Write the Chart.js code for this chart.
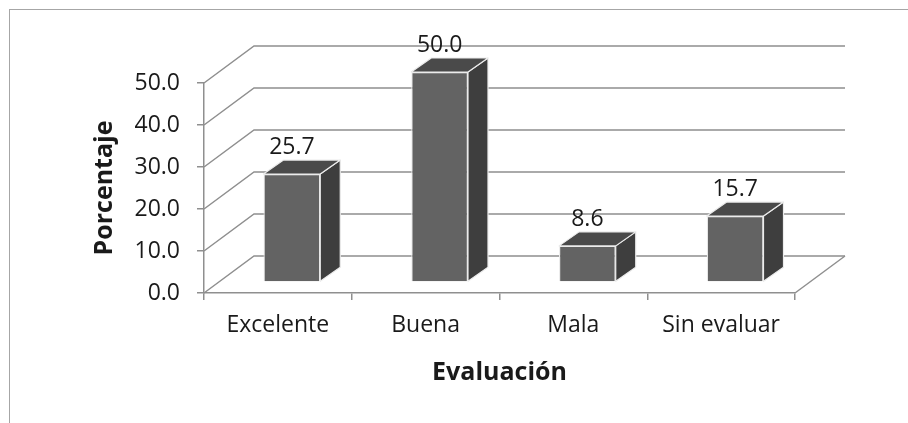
<!DOCTYPE html>
<html lang="es">
<head>
<meta charset="utf-8">
<title>Evaluación</title>
<script src="https://cdn.jsdelivr.net/npm/chart.js@4.4.1/dist/chart.umd.min.js"></script>
<style>
  html, body { margin: 0; padding: 0; background: #fff; overflow: hidden; }
  .marco { position: absolute; left: 9px; top: 9px; width: 1000px; height: 1000px; border: 1px solid #a6a6a6; }
  .lienzo { position: absolute; left: 0; top: 0; width: 908px; height: 423px; }
</style>
</head>
<body>
<div class="marco"></div>
<div class="lienzo"><canvas id="graficoEvaluacion"></canvas></div>
<script>
const categorias = ["Excelente", "Buena", "Mala", "Sin evaluar"];
const porcentajes = [25.7, 50.0, 8.6, 15.7];
const marcasY = [0, 10, 20, 30, 40, 50];

// proyeccion oblicua: pared del fondo, posicion y grosor de las barras
const FONDO = { dx: 50, dy: -37 };
const DESPLAZA_BARRA = { dx: 14, dy: -11 };
const PROF_BARRA = { dx: 20, dy: -14 };

const colorRejilla = "#8f8f8f";
const fuente = "'Open Sans', sans-serif";

const efecto3d = {
    id: "efecto3d",
    beforeDatasetsDraw(chart) {
        const { ctx, chartArea, scales } = chart;
        const ejeY = scales.y;

        // paredes: izquierda y fondo
        ctx.save();
        ctx.strokeStyle = colorRejilla;
        ctx.lineWidth = 1.5;
        marcasY.forEach((v) => {
            const py = ejeY.getPixelForValue(v);
            ctx.beginPath();
            ctx.moveTo(chartArea.left, py);
            ctx.lineTo(chartArea.left + FONDO.dx, py + FONDO.dy);
            ctx.lineTo(chartArea.right + FONDO.dx, py + FONDO.dy);
            ctx.stroke();
        });
        // borde derecho del piso
        const y0 = ejeY.getPixelForValue(0);
        ctx.beginPath();
        ctx.moveTo(chartArea.right, y0);
        ctx.lineTo(chartArea.right + FONDO.dx, y0 + FONDO.dy);
        ctx.stroke();
        ctx.restore();

        // las barras van a media profundidad
        ctx.save();
        ctx.translate(DESPLAZA_BARRA.dx, DESPLAZA_BARRA.dy);
    },
    afterDatasetsDraw(chart) {
        const { ctx } = chart;
        ctx.restore();

        const meta = chart.getDatasetMeta(0);
        ctx.save();
        ctx.lineWidth = 1.2;
        ctx.strokeStyle = "#ececec";
        ctx.lineJoin = "round";
        meta.data.forEach((barra, i) => {
            const { x, y, base, width } = barra.getProps(["x", "y", "base", "width"], true);
            const izq = x - width / 2 + DESPLAZA_BARRA.dx;
            const der = x + width / 2 + DESPLAZA_BARRA.dx;
            const arriba = y + DESPLAZA_BARRA.dy;
            const abajo = base + DESPLAZA_BARRA.dy;

            // cara lateral
            ctx.beginPath();
            ctx.moveTo(der, arriba);
            ctx.lineTo(der + PROF_BARRA.dx, arriba + PROF_BARRA.dy);
            ctx.lineTo(der + PROF_BARRA.dx, abajo + PROF_BARRA.dy);
            ctx.lineTo(der, abajo);
            ctx.closePath();
            ctx.fillStyle = "#3e3e3e";
            ctx.fill();
            ctx.stroke();

            // cara superior
            ctx.beginPath();
            ctx.moveTo(izq, arriba);
            ctx.lineTo(der, arriba);
            ctx.lineTo(der + PROF_BARRA.dx, arriba + PROF_BARRA.dy);
            ctx.lineTo(izq + PROF_BARRA.dx, arriba + PROF_BARRA.dy);
            ctx.closePath();
            ctx.fillStyle = "#4a4a4a";
            ctx.fill();
            ctx.stroke();

            // etiqueta con el valor
            ctx.fillStyle = "#1a1a1a";
            ctx.font = "23px " + fuente;
            ctx.textAlign = "center";
            ctx.textBaseline = "bottom";
            ctx.fillText(porcentajes[i].toFixed(1), x + DESPLAZA_BARRA.dx, arriba + PROF_BARRA.dy - 1);
        });
        ctx.restore();
    },
};

new Chart(document.getElementById("graficoEvaluacion"), {
    type: "bar",
    data: {
        labels: categorias,
        datasets: [
            {
                label: "Porcentaje",
                data: porcentajes,
                backgroundColor: "#636363",
                borderColor: "#ececec",
                borderWidth: 1.2,
                barPercentage: 0.6,
                categoryPercentage: 0.64,
                clip: false,
            },
        ],
    },
    options: {
        responsive: true,
        maintainAspectRatio: false,
        animation: false,
        layout: { padding: { left: 0, top: 83, right: 113, bottom: 0 } },
        plugins: {
            legend: { display: false },
            tooltip: { enabled: false },
        },
        scales: {
            x: {
                grid: { drawOnChartArea: false, drawTicks: true, tickLength: 7, color: colorRejilla, lineWidth: 1.5 },
                border: { display: true, color: colorRejilla, width: 1.5 },
                ticks: { color: "#1a1a1a", font: { family: fuente, size: 23 }, padding: 12, maxRotation: 0 },
                title: {
                    display: true,
                    text: "Evaluación",
                    color: "#1a1a1a",
                    font: { family: fuente, size: 25, weight: "bold" },
                    padding: { top: 0, bottom: 35 },
                },
                afterFit(scale) {
                    scale.height = 130;
                },
            },
            y: {
                min: 0,
                max: 50,
                afterBuildTicks(scale) {
                    scale.ticks = marcasY.map((v) => ({ value: v }));
                },
                grid: { drawOnChartArea: false, drawTicks: true, tickLength: 7, color: colorRejilla, lineWidth: 1.5 },
                border: { display: true, color: colorRejilla, width: 1.5 },
                ticks: {
                    color: "#1a1a1a",
                    font: { family: fuente, size: 23 },
                    padding: 17,
                    callback: (v) => Number(v).toFixed(1),
                },
                title: {
                    display: true,
                    text: "Porcentaje",
                    color: "#1a1a1a",
                    font: { family: fuente, size: 25, weight: "bold" },
                    padding: { top: 90, bottom: 0 },
                },
                afterFit(scale) {
                    scale.width = 204;
                },
            },
        },
    },
    plugins: [efecto3d],
});
</script>
</body>
</html>
